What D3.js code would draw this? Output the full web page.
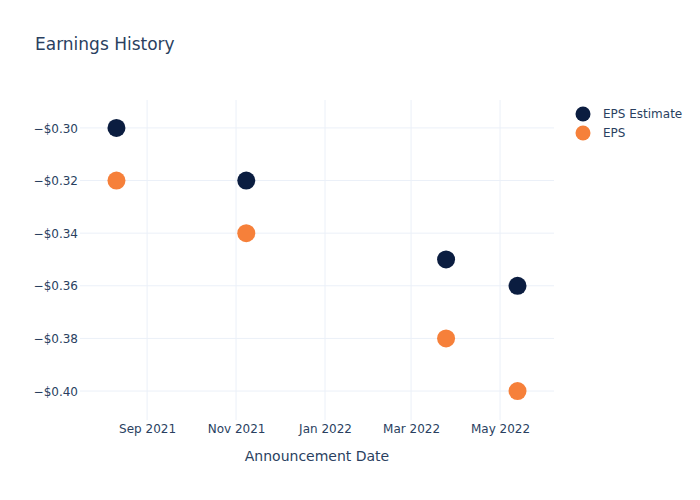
<!DOCTYPE html>
<html>
<head>
<meta charset="utf-8">
<script src="https://cdn.jsdelivr.net/npm/d3@7"></script>
<style>
  body { margin: 0; background: #fff; }
  svg { font-family: "DejaVu Sans", sans-serif; }
</style>
</head>
<body>
<svg id="chart" width="700" height="500"></svg>
<script>
const dates = ["2021-08-11", "2021-11-08", "2022-03-25", "2022-05-13"];
const epsEstimate = [-0.30, -0.32, -0.35, -0.36];
const eps = [-0.32, -0.34, -0.38, -0.40];
const yTicks = [-0.30, -0.32, -0.34, -0.36, -0.38, -0.40];
const xTicks = ["2021-09-01", "2021-11-01", "2022-01-01", "2022-03-01", "2022-05-01"];
const seriesNames = ["EPS Estimate", "EPS"];
const colors = ["#0b1d40", "#f6803a"];

const parse = d3.utcParse("%Y-%m-%d");
const svg = d3.select("#chart");
const L = 80, R = 554, T = 100, B = 420;

const x = d3.scaleUtc()
  .domain([parse("2021-07-17"), parse("2022-06-07")])
  .range([L, R]);
const y = d3.scaleLinear()
  .domain([-0.4110, -0.2894])
  .range([B, T]);

const textColor = "#2a3f5f";
const gridColor = "#ebf0f8";

// grid
svg.append("g").selectAll("line").data(yTicks).join("line")
  .attr("x1", L).attr("x2", R)
  .attr("y1", d => y(d)).attr("y2", d => y(d))
  .attr("stroke", gridColor).attr("stroke-width", 1);
svg.append("g").selectAll("line").data(xTicks).join("line")
  .attr("x1", d => x(parse(d))).attr("x2", d => x(parse(d)))
  .attr("y1", T).attr("y2", B)
  .attr("stroke", gridColor).attr("stroke-width", 1);

// axes
const fmtY = d => "\u2212$" + Math.abs(d).toFixed(2);
const yAxis = d3.axisLeft(y).tickValues(yTicks).tickFormat(fmtY).tickSize(0).tickPadding(0);
const gy = svg.append("g").attr("transform", `translate(${L - 2},0)`).call(yAxis);
gy.attr("font-family", null).attr("font-size", null);
gy.select(".domain").remove();
gy.selectAll("text").attr("fill", textColor).style("font-size", "12px").attr("dy", "0.35em");

const fmtX = d3.utcFormat("%b %Y");
const xAxis = d3.axisBottom(x).tickValues(xTicks.map(parse)).tickFormat(fmtX).tickSize(0).tickPadding(0);
const gx = svg.append("g").attr("transform", `translate(0,${B + 1})`).call(xAxis);
gx.attr("font-family", null).attr("font-size", null);
gx.select(".domain").remove();
gx.selectAll("text").attr("fill", textColor).style("font-size", "12px").attr("dy", "0.71em").attr("y", 3);

// markers
const series = [epsEstimate, eps];
series.forEach((vals, i) => {
  svg.append("g").selectAll("circle").data(vals).join("circle")
    .attr("cx", (d, j) => x(parse(dates[j])))
    .attr("cy", d => y(d))
    .attr("r", 9)
    .attr("fill", colors[i]);
});

// title
svg.append("text").attr("x", 35).attr("y", 50)
  .attr("fill", textColor).style("font-size", "17px").text("Earnings History");

// x axis title
svg.append("text").attr("x", (L + R) / 2).attr("y", 461)
  .attr("text-anchor", "middle")
  .attr("fill", textColor).style("font-size", "14px").text("Announcement Date");

// legend
const lg = svg.append("g").attr("transform", "translate(583,114)");
seriesNames.forEach((n, i) => {
  const g = lg.append("g").attr("transform", `translate(0,${i * 19})`);
  g.append("circle").attr("r", 7.5).attr("fill", colors[i]);
  g.append("text").attr("x", 20).attr("dy", "0.35em")
    .attr("fill", textColor).style("font-size", "12px").text(n);
});
</script>
</body>
</html>
